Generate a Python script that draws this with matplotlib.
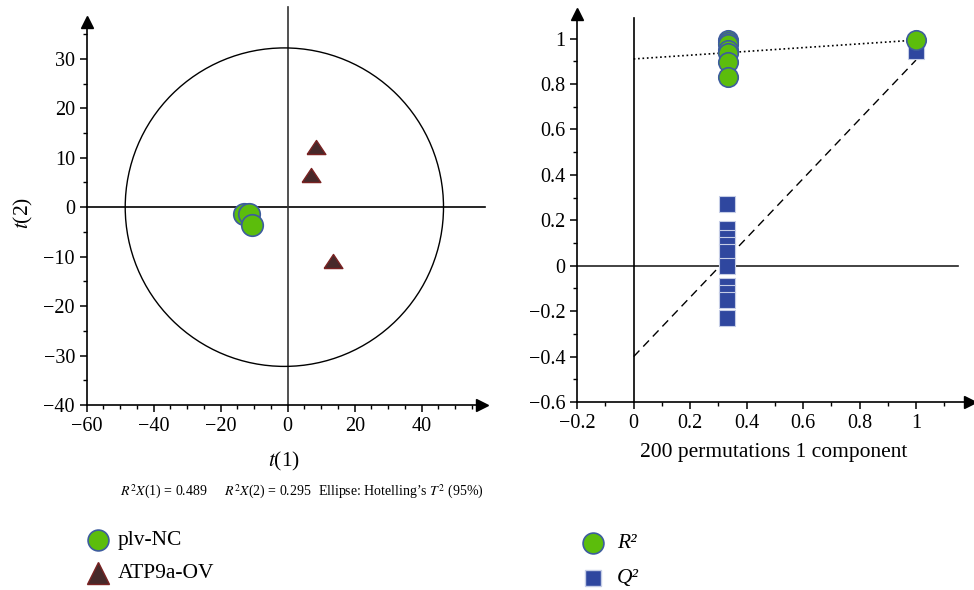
"""
Recreate the PCA score plot and the permutation test plot.
"""

import matplotlib
matplotlib.use("Agg")
import matplotlib.pyplot as plt
from matplotlib.patches import Ellipse
from matplotlib.ticker import MultipleLocator, FuncFormatter

plt.rcParams["font.family"] = ["Liberation Serif", "DejaVu Serif"]
plt.rcParams["mathtext.fontset"] = "stix"

# --- score plot data ---
plv_nc_t1 = [-13.0, -11.6, -10.8]
plv_nc_t2 = [-1.4, -1.3, -3.7]
atp9a_t1 = [8.5, 7.0, 13.6]
atp9a_t2 = [12.2, 6.5, -10.8]
ellipse_center = (-1.0, 0.0)
ellipse_axes = (95.0, 64.4)

# --- permutation test data ---
r2_x = [0.335, 0.335, 0.335, 0.335, 0.335, 0.335, 0.335, 1.0]
r2_y = [0.995, 0.985, 0.975, 0.95, 0.935, 0.895, 0.83, 0.993]
q2_x = [0.33, 0.33, 0.33, 0.33, 0.33, 0.33, 0.33, 0.33, 0.33, 0.33, 1.0]
q2_y = [0.27, 0.16, 0.12, 0.09, 0.06, 0.0, -0.09, -0.12, -0.15, -0.23, 0.945]
line_x = [0.0, 1.0]
r2_line_y = [0.91, 0.993]
q2_line_y = [-0.40, 0.905]

GREEN = "#5cbd0c"
GREEN_EDGE = "#3d5c9e"
BROWN = "#47292a"
BROWN_EDGE = "#7a2222"
BLUE = "#2f479f"
BLUE_EDGE = "#c5cde6"

# flatter triangle, like the reference markers
FLAT_TRI = [(-1, -0.75), (1, -0.75), (0, 0.75), (-1, -0.75)]


def fmt(v, pos):
    v = round(v, 6) + 0.0
    return f"{v:g}".replace("-", "\u2212")


def style_axes(ax):
    for side in ("top", "right"):
        ax.spines[side].set_visible(False)
    for side in ("left", "bottom"):
        ax.spines[side].set_linewidth(1.2)
    ax.tick_params(which="major", direction="out", length=5, width=1.1, labelsize=14.5)
    ax.tick_params(which="minor", direction="out", length=3, width=1.0)
    ax.xaxis.set_major_formatter(FuncFormatter(fmt))
    ax.yaxis.set_major_formatter(FuncFormatter(fmt))
    # arrow heads on the axis ends
    ax.plot(1, 0, ">k", ms=8, transform=ax.transAxes, clip_on=False)
    ax.plot(0, 1, "^k", ms=8, transform=ax.transAxes, clip_on=False)
    ax.patch.set_alpha(0)


fig = plt.figure(figsize=(9.74, 5.9), dpi=100)

# ---------------- left: score plot ----------------
ax1 = fig.add_axes([0.0890, 0.3136, 0.4059, 0.6496])
ax1.set_xlim(-60, 58)
ax1.set_ylim(-40, 37.5)
ax1.xaxis.set_major_locator(MultipleLocator(20))
ax1.xaxis.set_minor_locator(MultipleLocator(5))
ax1.yaxis.set_major_locator(MultipleLocator(10))
ax1.yaxis.set_minor_locator(MultipleLocator(5))
style_axes(ax1)

ax1.plot([-60, 59], [0, 0], color="black", lw=1.2, clip_on=False, zorder=1)
ax1.plot([0, 0], [-40, 40.5], color="#333333", lw=1.2, clip_on=False, zorder=1)
ax1.add_patch(Ellipse(ellipse_center, ellipse_axes[0], ellipse_axes[1],
                      fill=False, edgecolor="black", lw=1.0, zorder=2))

ax1.plot(plv_nc_t1, plv_nc_t2, "o", ms=15.5, color=GREEN,
         markeredgecolor=GREEN_EDGE, markeredgewidth=1.2, zorder=4)
ax1.plot(atp9a_t1, atp9a_t2, marker=FLAT_TRI, ls="none", ms=13.5, color=BROWN,
         markeredgecolor=BROWN_EDGE, markeredgewidth=1.0, zorder=4)

ax1.set_xlabel("$t$(1)", fontsize=15.5, labelpad=10)
ax1.set_ylabel("$t$(2)", fontsize=15.5, labelpad=6)

# ---------------- right: permutation plot ----------------
ax2 = fig.add_axes([0.5926, 0.3186, 0.4029, 0.6585])
ax2.set_xlim(-0.2, 1.19)
ax2.set_ylim(-0.6, 1.11)
ax2.xaxis.set_major_locator(MultipleLocator(0.2))
ax2.xaxis.set_minor_locator(MultipleLocator(0.1))
ax2.yaxis.set_major_locator(MultipleLocator(0.2))
ax2.yaxis.set_minor_locator(MultipleLocator(0.1))
style_axes(ax2)

ax2.plot([-0.2, 1.15], [0, 0], color="#222222", lw=1.2, zorder=1)
ax2.plot([0, 0], [-0.6, 1.09], color="black", lw=1.2, clip_on=False, zorder=1)
ax2.plot(line_x, r2_line_y, ":", color="black", lw=1.2, zorder=2)
ax2.plot(line_x, q2_line_y, "--", color="black", lw=1.0, dashes=(6, 4), zorder=2)

ax2.plot(q2_x, q2_y, "s", ms=11.5, color=BLUE,
         markeredgecolor=BLUE_EDGE, markeredgewidth=0.8, zorder=3)
ax2.plot(r2_x, r2_y, "o", ms=14, color=GREEN,
         markeredgecolor=GREEN_EDGE, markeredgewidth=1.2, zorder=4)

ax2.set_xlabel("200 permutations 1 component", fontsize=15.5, labelpad=7)

# ---------------- captions and legends ----------------
cap_y = 1 - 492 / 590
fig.text(120 / 974, cap_y, "$R^2X$(1) = 0.489", fontsize=10, va="center")
fig.text(224 / 974, cap_y, "$R^2X$(2) = 0.295", fontsize=10, va="center")
fig.text(318 / 974, cap_y, "Ellipse: Hotelling\u2019s $T^2$ (95%)", fontsize=10, va="center")

fig.lines.append(plt.Line2D([98 / 974], [1 - 540 / 590], marker="o", ms=15,
                            color=GREEN, markeredgecolor=GREEN_EDGE,
                            markeredgewidth=1.2, transform=fig.transFigure))
fig.text(118 / 974, 1 - 540 / 590, "plv-NC", fontsize=15.5, va="center")
fig.lines.append(plt.Line2D([98 / 974], [1 - 573 / 590], marker="^", ms=16,
                            color=BROWN, markeredgecolor=BROWN_EDGE,
                            transform=fig.transFigure))
fig.text(118 / 974, 1 - 573 / 590, "ATP9a-OV", fontsize=15.5, va="center")

fig.lines.append(plt.Line2D([593 / 974], [1 - 543 / 590], marker="o", ms=15,
                            color=GREEN, markeredgecolor=GREEN_EDGE,
                            markeredgewidth=1.2, transform=fig.transFigure))
fig.text(617 / 974, 1 - 543 / 590, "R\u00b2", fontsize=15.5, fontstyle="italic", va="center")
fig.lines.append(plt.Line2D([593 / 974], [1 - 578 / 590], marker="s", ms=12,
                            color=BLUE, markeredgecolor=BLUE_EDGE,
                            transform=fig.transFigure))
fig.text(617 / 974, 1 - 578 / 590, "Q\u00b2", fontsize=15.5, fontstyle="italic", va="center")

fig.savefig("out.png", dpi=100, facecolor="white")
